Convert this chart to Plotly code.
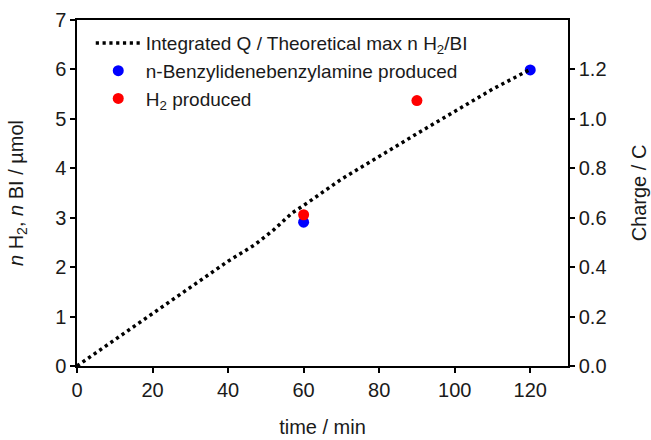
import plotly.graph_objects as go

# Integrated charge curve (time in min, charge in C)
t_line = [0, 10, 20, 30, 40, 47, 52, 57, 61, 70, 80, 90, 100, 110, 120]
charge_line = [0.0, 0.106, 0.212, 0.32, 0.424, 0.49, 0.55, 0.62, 0.66, 0.756, 0.85, 0.94, 1.03, 1.12, 1.2]

# n-Benzylidenebenzylamine produced (µmol)
t_bi = [60, 120]
n_bi = [2.91, 5.99]

# H2 produced (µmol)
t_h2 = [60, 90]
n_h2 = [3.06, 5.37]

x_ticks = [0, 20, 40, 60, 80, 100, 120]
y_ticks = [0, 1, 2, 3, 4, 5, 6, 7]
y2_ticks = [0.0, 0.2, 0.4, 0.6, 0.8, 1.0, 1.2]

FONT = "Liberation Sans, Arial, sans-serif"
TXT = "#1a1a1a"

fig = go.Figure()
fig.add_trace(go.Scatter(
    x=t_line, y=charge_line, yaxis="y2", mode="lines",
    line=dict(color="black", width=3.5, dash="3.2px,3.6px"),
    name="Integrated Q / Theoretical max n H<sub>2</sub>/BI",
))
fig.add_trace(go.Scatter(
    x=t_bi, y=n_bi, mode="markers",
    marker=dict(color="#0000ff", size=11),
    name="n-Benzylidenebenzylamine produced",
))
fig.add_trace(go.Scatter(
    x=t_h2, y=n_h2, mode="markers",
    marker=dict(color="#ff0000", size=11),
    name="H<sub>2</sub> produced",
))

fig.update_layout(
    width=651, height=440,
    margin=dict(l=77, r=83, t=20, b=74, autoexpand=False),
    plot_bgcolor="white", paper_bgcolor="white",
    font=dict(family=FONT, size=19, color=TXT),
    showlegend=True,
    legend=dict(x=0.028, y=0.988, xanchor="left", yanchor="top",
                bgcolor="rgba(0,0,0,0)", font=dict(size=19, color=TXT),
                tracegroupgap=0, itemwidth=45),
    xaxis=dict(
        range=[0, 130], tickvals=x_ticks, ticks="outside", ticklen=5,
        tickwidth=1.5, tickcolor="black", automargin=False,
        showline=True, linecolor="black", linewidth=1.5, mirror=True,
        showgrid=False, zeroline=False,
        tickfont=dict(size=20),
        title=dict(text="time / min", font=dict(size=20), standoff=20),
    ),
    yaxis=dict(
        range=[0, 7], tickvals=y_ticks, ticks="outside", ticklen=5,
        tickwidth=1.5, tickcolor="black", automargin=False,
        showline=True, linecolor="black", linewidth=1.5, mirror=True,
        showgrid=False, zeroline=False,
        tickfont=dict(size=20),
        title=dict(text="<i>n</i> H<sub>2</sub>, <i>n</i> BI / µmol",
                   font=dict(size=20), standoff=26),
    ),
    yaxis2=dict(
        range=[0, 1.4], tickvals=y2_ticks, tickformat=".1f",
        overlaying="y", side="right", ticks="outside", ticklen=5,
        tickwidth=1.5, tickcolor="black", automargin=False,
        showline=True, linecolor="black", linewidth=1.5,
        showgrid=False, zeroline=False,
        tickfont=dict(size=20),
        title=dict(text="Charge / C", font=dict(size=20), standoff=26),
    ),
)

fig.write_html("out.html")
